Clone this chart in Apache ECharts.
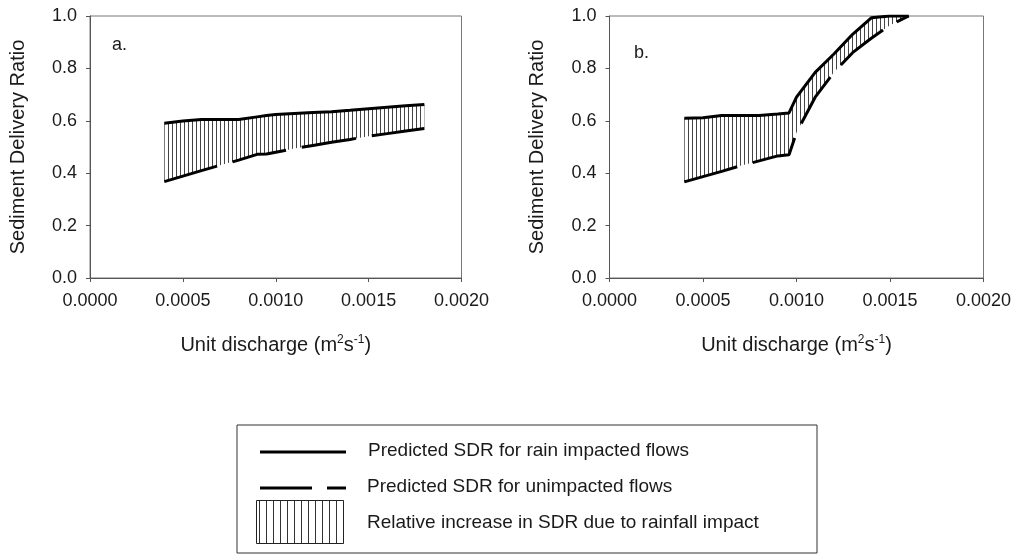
<!DOCTYPE html>
<html><head><meta charset="utf-8">
<script src="https://cdn.jsdelivr.net/npm/echarts@6/dist/echarts.min.js"></script>
<style>html,body{margin:0;padding:0;background:#fff}#c{width:1019px;height:554px}</style>
</head><body><div id="c"></div>
<script>
// ---- data ----
const xTickLabels = ['0.0000','0.0005','0.0010','0.0015','0.0020'];
const yTickLabels = ['0.0','0.2','0.4','0.6','0.8','1.0'];

// panel a
const xsA    = [0.0004,0.0005,0.0006,0.0007,0.0008,0.0009,0.00095,0.0010,0.0011,0.0012,0.0013,0.0014,0.0015,0.0016,0.0017,0.0018];
const rainA  = [0.591,0.599,0.605,0.605,0.605,0.615,0.620,0.624,0.628,0.632,0.635,0.640,0.646,0.652,0.657,0.662];
const unimpA = [0.368,0.389,0.410,0.430,0.450,0.472,0.473,0.480,0.494,0.506,0.518,0.529,0.541,0.551,0.561,0.571];
// panel b
const xsB    = [0.0004,0.0005,0.0006,0.0007,0.0008,0.0009,0.00096,0.0010,0.0011,0.0012,0.0013,0.0014,0.0015,0.0016];
const rainB  = [0.610,0.612,0.620,0.620,0.620,0.626,0.630,0.690,0.785,0.855,0.930,0.993,1.000,1.000];
const unimpB = [0.367,0.387,0.407,0.428,0.447,0.466,0.470,0.555,0.690,0.785,0.860,0.915,0.965,1.000];

const panelLabels = ['a.','b.'];
const legendLabels = ['Predicted SDR for rain impacted flows','Predicted SDR for unimpacted flows','Relative increase in SDR due to rainfall impact'];
const xName = 'Unit discharge (m{sup|2}s{sup|-1})';
const yName = 'Sediment Delivery Ratio';

// ---- styling ----
const FONT = '"Liberation Sans", Arial, sans-serif';
const TXT = '#1a1a1a';
function hatch(spacing, color){
  const c = document.createElement('canvas');
  c.width = spacing; c.height = spacing;
  const g = c.getContext('2d');
  g.fillStyle = color; g.fillRect(0,0,1,spacing);
  return {image: c, repeat: 'repeat'};
}
const bandPattern = hatch(4, '#444');
const legendPattern = hatch(7, '#333');

const grids = [
  {left: 90, top: 16, width: 371.5, height: 262, show: true, borderColor: '#777', borderWidth: 1},
  {left: 609.5, top: 16, width: 374, height: 262, show: true, borderColor: '#777', borderWidth: 1}
];

function xAxis(i){
  return {type:'value', gridIndex:i, min:0, max:0.002, interval:0.0005,
    axisLine:{show:true, onZero:false, lineStyle:{color:'#555', width:1}},
    axisTick:{show:true, length:4, lineStyle:{color:'#555'}},
    splitLine:{show:false},
    axisLabel:{formatter:(v)=>xTickLabels[Math.round(v/0.0005)], fontSize:18, color:TXT, fontFamily:FONT, margin:14},
    name:xName, nameLocation:'middle', nameGap:56,
    nameTextStyle:{fontSize:20, color:TXT, fontFamily:FONT,
      rich:{sup:{fontSize:12, color:TXT, fontFamily:FONT, verticalAlign:'top', padding:[0,0,10,0]}}}
  };
}
function yAxis(i){
  return {type:'value', gridIndex:i, min:0, max:1, interval:0.2,
    axisLine:{show:true, onZero:false, lineStyle:{color:'#555', width:1}},
    axisTick:{show:true, length:4, lineStyle:{color:'#555'}},
    splitLine:{show:false},
    axisLabel:{formatter:(v)=>yTickLabels[Math.round(v/0.2)], fontSize:18, color:TXT, fontFamily:FONT, margin:13},
    name:yName, nameLocation:'middle', nameGap:62,
    nameTextStyle:{fontSize:20, color:TXT, fontFamily:FONT}
  };
}

function bandSeries(i, xs, up, lo){
  return {type:'custom', xAxisIndex:i, yAxisIndex:i, silent:true, z:1,
    data:[[xs[0], lo[0]]],
    renderItem:function(params, api){
      const top = xs.map((x,k)=>api.coord([x, up[k]]));
      const bot = xs.map((x,k)=>api.coord([x, lo[k]])).reverse();
      return {type:'polygon', shape:{points: top.concat(bot)}, style:{fill: bandPattern, stroke:null}};
    }};
}
function lineSeries(i, xs, ys, dashed){
  return {type:'line', xAxisIndex:i, yAxisIndex:i, silent:true, z:3, symbol:'none',
    data: xs.map((x,k)=>[x, ys[k]]),
    lineStyle:{color:'#000', width:3, type: dashed ? [55,16] : 'solid', cap:'butt'}};
}

const lg = {x:237, y:425, w:580, h:128};
const graphic = [
  {type:'text', left:112, top:36, style:{text:panelLabels[0], font:'18px '+FONT, fill:TXT}},
  {type:'text', left:634, top:44, style:{text:panelLabels[1], font:'18px '+FONT, fill:TXT}},
  {type:'rect', shape:{x:lg.x, y:lg.y, width:lg.w, height:lg.h}, style:{fill:'#fff', stroke:'#333', lineWidth:1}},
  {type:'line', shape:{x1:260, y1:452, x2:346, y2:452}, style:{stroke:'#000', lineWidth:3}},
  {type:'line', shape:{x1:260, y1:488, x2:312, y2:488}, style:{stroke:'#000', lineWidth:3}},
  {type:'line', shape:{x1:327, y1:488, x2:346, y2:488}, style:{stroke:'#000', lineWidth:3}},
  {type:'rect', shape:{x:256.5, y:500.5, width:87, height:43}, style:{fill:legendPattern, stroke:'#222', lineWidth:1}},
  {type:'text', left:368, top:441, style:{text:legendLabels[0], font:'19px '+FONT, fill:TXT}},
  {type:'text', left:367, top:477, style:{text:legendLabels[1], font:'19px '+FONT, fill:TXT}},
  {type:'text', left:367, top:513, style:{text:legendLabels[2], font:'19px '+FONT, fill:TXT}}
];

const chart = echarts.init(document.getElementById('c'), null, {renderer:'canvas'});
chart.setOption({
  animation:false,
  backgroundColor:'#fff',
  grid: grids,
  xAxis:[xAxis(0), xAxis(1)],
  yAxis:[yAxis(0), yAxis(1)],
  series:[
    bandSeries(0, xsA, rainA, unimpA),
    lineSeries(0, xsA, rainA, false),
    lineSeries(0, xsA, unimpA, true),
    bandSeries(1, xsB, rainB, unimpB),
    lineSeries(1, xsB, rainB, false),
    lineSeries(1, xsB, unimpB, true)
  ],
  graphic: graphic
});
</script>
</body></html>
